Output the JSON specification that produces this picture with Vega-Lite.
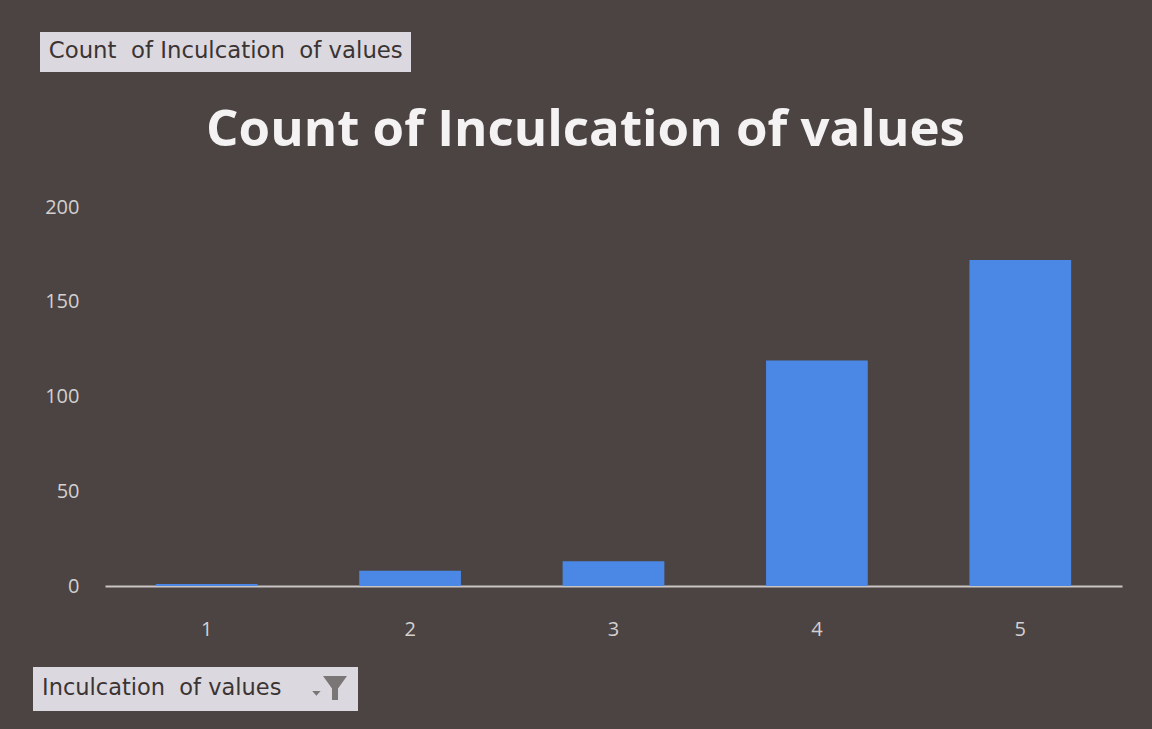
{
  "$schema": "https://vega.github.io/schema/vega-lite/v6.json",
  "autosize": {"type": "none"},
  "width": 1017,
  "height": 379,
  "padding": {"left": 105, "top": 207, "right": 30, "bottom": 143},
  "background": "#4b4443",
  "config": {"view": {"stroke": null}},
  "title": {
    "text": "Count of Inculcation of values",
    "font": "Open Sans",
    "fontSize": 51,
    "fontWeight": "bold",
    "color": "#f4f2f2",
    "anchor": "middle",
    "baseline": "alphabetic",
    "dx": -28,
    "offset": -165
  },
  "data": {
    "values": [
      {"rating": "1", "count": 1},
      {"rating": "2", "count": 8},
      {"rating": "3", "count": 13},
      {"rating": "4", "count": 119},
      {"rating": "5", "count": 172}
    ]
  },
  "encoding": {
    "x": {
      "field": "rating",
      "type": "nominal",
      "sort": null,
      "scale": {"paddingInner": 0.5, "paddingOuter": 0.25},
      "axis": {
        "title": null,
        "labelAngle": 0,
        "labelFont": "Open Sans",
        "labelFontSize": 20,
        "labelColor": "#d4d0d0",
        "labelPadding": 33,
        "ticks": false,
        "domainColor": "#c9c5c4",
        "domainWidth": 2
      }
    },
    "y": {
      "field": "count",
      "type": "quantitative",
      "scale": {"domain": [0, 200]},
      "axis": {
        "title": null,
        "values": [0, 50, 100, 150, 200],
        "labelFont": "Open Sans",
        "labelFontSize": 20,
        "labelColor": "#d4d0d0",
        "labelPadding": 26,
        "ticks": false,
        "domain": false,
        "grid": false
      }
    }
  },
  "layer": [
    {
      "mark": {"type": "bar"},
      "encoding": {
        "color": {
          "datum": "Count\u00a0 of Inculcation\u00a0 of values",
          "type": "nominal",
          "scale": {"range": ["#4b88e6"]},
          "legend": {
            "title": null,
            "orient": "none",
            "legendX": -65,
            "legendY": -175,
            "fillColor": "#dcd8e0",
            "padding": 8,
            "symbolOpacity": 0,
            "symbolSize": 0,
            "labelOffset": -22,
            "labelFont": "DejaVu Sans",
            "labelFontSize": 22.8,
            "labelColor": "#3a3433",
            "labelLimit": 600
          }
        }
      }
    },
    {
      "mark": {"type": "point", "opacity": 0, "filled": true, "color": "#7a7676"},
      "encoding": {
        "shape": {
          "datum": "Inculcation\u00a0 of values",
          "type": "nominal",
          "scale": {"range": ["M-1,-1L1,-1L0.25,0.05L0.25,1L-0.25,1L-0.25,0.05Z M-1.9,0.25L-1.2,0.25L-1.55,0.65Z"]},
          "legend": {
            "title": null,
            "orient": "none",
            "legendX": -72,
            "legendY": 460,
            "fillColor": "#dcd8e0",
            "padding": 8,
            "symbolSize": 576,
            "symbolOffset": 281,
            "symbolFillColor": "#7a7676",
            "symbolStrokeColor": "transparent",
            "symbolOpacity": 1,
            "labelOffset": -306,
            "labelFont": "DejaVu Sans",
            "labelFontSize": 22.5,
            "labelColor": "#3a3433",
            "labelLimit": 600
          }
        }
      }
    }
  ]
}
